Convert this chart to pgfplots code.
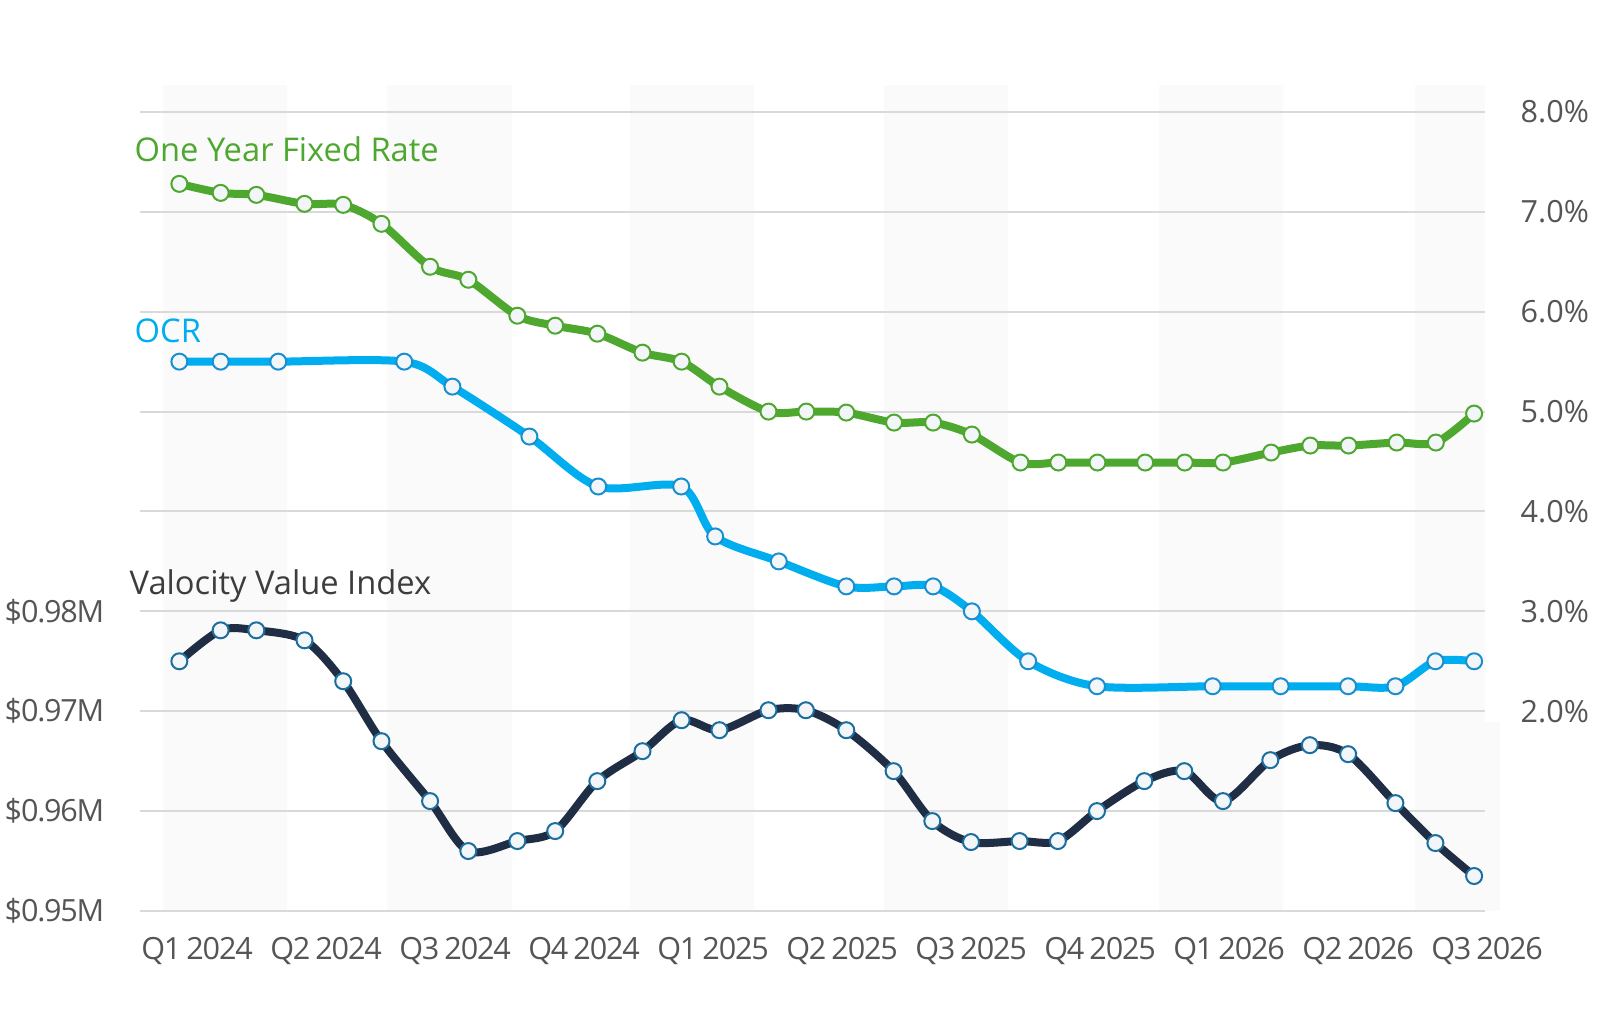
\documentclass[border=0pt]{standalone}
\usepackage{fontspec}
\setmainfont{Open Sans}
\newfontfamily\tightfont{Open Sans}[LetterSpace=-4]
\usepackage{pgfplots}
\pgfplotsset{compat=1.18}
\definecolor{cgreen}{HTML}{4EA72E}
\definecolor{cblue}{HTML}{00AEEF}
\definecolor{cblueb}{HTML}{1A8FCF}
\definecolor{cdark}{HTML}{1F2D45}
\definecolor{cdarkb}{HTML}{1B6E9E}
\definecolor{cgrid}{HTML}{D9D9D9}
\definecolor{cband}{HTML}{FAFAFA}
\definecolor{ctick}{HTML}{555555}
\definecolor{clabel}{HTML}{3D3D3D}
\definecolor{cmark}{HTML}{F3F6F8}
\pgfplotsset{
  base/.style={
    at={(14mm,10mm)}, anchor=south west,
    scale only axis, width=136mm, height=82.6mm,
    xmin=-1.3256, xmax=30.302,
    axis line style={draw=none},
    major tick length=0pt,
    tick style={draw=none},
    clip=false,
    scaled y ticks=false,
    ticklabel style={font=\fontsize{8.7}{10}\selectfont, text=ctick},
  },
  ser/.style={line width=0.8mm, smooth, tension=0.5, mark=*, mark size=0.8mm},
}
\begin{document}
\begin{tikzpicture}
\path[use as bounding box] (0,0) rectangle (160.7mm,101.1mm);
\begin{axis}[base, ymin=0, ymax=8.27,
  xtick={0,3,...,30},
  xticklabels={Q1\,2024,Q2\,2024,Q3\,2024,Q4\,2024,Q1\,2025,Q2\,2025,Q3\,2025,Q4\,2025,Q1\,2026,Q2\,2026,Q3\,2026},
  xticklabel style={anchor=north, inner sep=0pt, yshift=-2.6mm, font=\tightfont\fontsize{8.7}{10}\selectfont},
  ytick={2,3,4,5,6,7,8},
  yticklabels={2.0\%,3.0\%,4.0\%,5.0\%,6.0\%,7.0\%,8.0\%},
  yticklabel pos=right,
  yticklabel style={anchor=west, inner sep=0pt, xshift=2.0mm},
]
% background bands
\fill[cband] (axis cs:-0.791,0) rectangle (axis cs:2.093,8.27);
\fill[cband] (axis cs:4.419,0) rectangle (axis cs:7.326,8.27);
\fill[cband] (axis cs:10.07,0) rectangle (axis cs:12.953,8.27);
\fill[cband] (axis cs:15.977,0) rectangle (axis cs:18.86,8.27);
\fill[cband] (axis cs:22.372,0) rectangle (axis cs:25.256,8.27);
\fill[cband] (axis cs:28.326,0) rectangle (axis cs:29.953,8.27);
\fill[cband] (axis cs:29.953,0) rectangle (axis cs:30.302,1.89);
% grid lines
\pgfplotsinvokeforeach{0,1,2,3,4,5,6,7,8}{
  \draw[cgrid, line width=0.2mm] (axis cs:-1.3256,#1) -- (axis cs:29.953,#1);
}
% One Year Fixed Rate
\addplot[ser, cgreen, mark options={fill=cmark, draw=cgreen, line width=0.2mm}] coordinates {
(-0.41,7.28) (0.55,7.19) (1.38,7.17) (2.50,7.08) (3.40,7.07) (4.29,6.88)
(5.42,6.45) (6.31,6.32) (7.45,5.96) (8.33,5.86) (9.31,5.78) (10.36,5.59)
(11.27,5.50) (12.15,5.25) (13.29,5.00) (14.17,5.00) (15.10,4.99) (16.21,4.89)
(17.12,4.89) (18.02,4.77) (19.15,4.49) (20.03,4.49) (20.94,4.49) (22.05,4.49)
(22.97,4.49) (23.86,4.49) (24.98,4.59) (25.89,4.66) (26.78,4.66) (27.90,4.69)
(28.81,4.69) (29.70,4.98)
};
% OCR
\addplot[ser, cblue, mark options={fill=cmark, draw=cblueb, line width=0.2mm}] coordinates {
(-0.41,5.50) (0.55,5.50) (1.89,5.50) (4.82,5.50) (5.94,5.25) (7.73,4.75)
(9.33,4.25) (11.26,4.25) (12.05,3.75) (13.53,3.50) (15.10,3.25) (16.21,3.25)
(17.12,3.25) (18.02,3.00) (19.33,2.50) (20.93,2.25) (23.62,2.25) (25.20,2.25)
(26.77,2.25) (27.87,2.25) (28.80,2.50) (29.70,2.50)
};
\node[anchor=base west, inner sep=0pt, text=cgreen, font=\fontsize{9.3}{11}\selectfont] at (axis cs:-1.465,7.50) {One Year Fixed Rate};
\node[anchor=base west, inner sep=0pt, text=cblue, font=\fontsize{9.3}{11}\selectfont] at (axis cs:-1.465,5.687) {OCR};
\node[anchor=base west, inner sep=0pt, text=clabel, font=\fontsize{9.3}{11}\selectfont] at (axis cs:-1.581,3.164) {Valocity Value Index};
\end{axis}
\begin{axis}[base, ymin=0.95, ymax=1.0327,
  xtick=\empty,
  ytick={0.95,0.96,0.97,0.98},
  yticklabels={\$0.95M,\$0.96M,\$0.97M,\$0.98M},
  yticklabel style={anchor=east, inner sep=0pt, xshift=-3.5mm, font=\tightfont\fontsize{8.7}{10}\selectfont},
]
\addplot[ser, cdark, mark options={fill=cmark, draw=cdarkb, line width=0.2mm}] coordinates {
(-0.41,0.9750) (0.55,0.9781) (1.38,0.9781) (2.50,0.9771) (3.40,0.9730) (4.29,0.9670)
(5.42,0.9610) (6.31,0.9560) (7.45,0.9570) (8.33,0.9580) (9.31,0.9630) (10.36,0.9660)
(11.27,0.9691) (12.15,0.9681) (13.29,0.9701) (14.16,0.9701) (15.10,0.9681) (16.20,0.9640)
(17.10,0.9590) (18.00,0.9569) (19.13,0.9570) (20.02,0.9570) (20.93,0.9600) (22.03,0.9630)
(22.96,0.9640) (23.86,0.9610) (24.96,0.9651) (25.88,0.9666) (26.77,0.9657) (27.87,0.9608)
(28.80,0.9568) (29.70,0.9535)
};
\end{axis}
\end{tikzpicture}
\end{document}
